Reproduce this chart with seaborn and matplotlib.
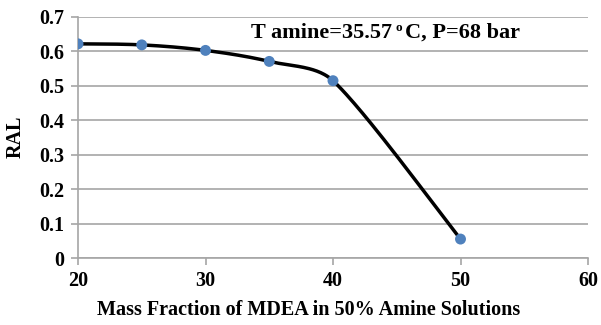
import numpy as np
import matplotlib
matplotlib.use("Agg")
import matplotlib.pyplot as plt
import seaborn as sns
import pandas as pd

mass_fraction = [20, 25, 30, 35, 40, 50]
ral = [0.622, 0.619, 0.603, 0.571, 0.515, 0.055]
x_ticks = [20, 30, 40, 50, 60]
y_ticks = [0, 0.1, 0.2, 0.3, 0.4, 0.5, 0.6, 0.7]
y_tick_labels = ["0", "0.1", "0.2", "0.3", "0.4", "0.5", "0.6", "0.7"]

sns.set_theme(style="white")
plt.rcParams['font.family'] = ['Liberation Serif', 'DejaVu Serif']
plt.rcParams['font.weight'] = 'bold'
plt.rcParams['text.color'] = 'black'
plt.rcParams['axes.labelcolor'] = 'black'
plt.rcParams['xtick.color'] = 'black'
plt.rcParams['ytick.color'] = 'black'

XL, YL = (20, 60), (0, 0.7)
AX_W, AX_H = 510, 241  # axes size in pixels
W, H = 601, 325


def smooth(xs, ys, n=50):
    # Bezier smoothing done in pixel space, with control offsets capped
    sx = AX_W / (XL[1] - XL[0])
    sy = AX_H / (YL[1] - YL[0])
    P = np.column_stack([np.asarray(xs, float) * sx, np.asarray(ys, float) * sy])
    m = len(P)
    out = []
    for i in range(m - 1):
        p0 = P[i - 1] if i > 0 else P[i]
        p1 = P[i]
        p2 = P[i + 1]
        p3 = P[i + 2] if i + 2 < m else P[i + 1]
        seg_len = np.linalg.norm(p2 - p1)
        d1 = (p2 - p0) / 6
        d2 = (p3 - p1) / 6
        cap = seg_len / 3
        if np.linalg.norm(d1) > cap:
            d1 = d1 / np.linalg.norm(d1) * cap
        if np.linalg.norm(d2) > cap:
            d2 = d2 / np.linalg.norm(d2) * cap
        c1 = p1 + d1
        c2 = p2 - d2
        t = np.linspace(0, 1, n)[:, None]
        seg = (1 - t) ** 3 * p1 + 3 * (1 - t) ** 2 * t * c1 + 3 * (1 - t) * t ** 2 * c2 + t ** 3 * p2
        out.append(seg if i == 0 else seg[1:])
    res = np.vstack(out)
    return res[:, 0] / sx, res[:, 1] / sy


cx, cy = smooth(mass_fraction, ral)
df_curve = pd.DataFrame({"x": cx, "y": cy})
df_pts = pd.DataFrame({"x": mass_fraction, "y": ral})

fig = plt.figure(figsize=(W / 100, H / 100), dpi=100)
ax = fig.add_axes([78 / W, 67 / H, AX_W / W, AX_H / H])

sns.lineplot(data=df_curve, x="x", y="y", ax=ax, color="black", linewidth=2.5, sort=False, zorder=2)
sns.scatterplot(data=df_pts, x="x", y="y", ax=ax, color="#4f81bd", s=62, edgecolor="none", zorder=3)

ax.set_xlim(*XL)
ax.set_ylim(*YL)
ax.set_xticks(x_ticks)
ax.set_yticks(y_ticks)
ax.set_yticklabels(y_tick_labels)
ax.yaxis.grid(True, color="#a6a6a6", linewidth=1.2)
ax.xaxis.grid(False)
for s in ["top", "right"]:
    ax.spines[s].set_visible(False)
for s in ["left", "bottom"]:
    ax.spines[s].set_color("#a6a6a6")
    ax.spines[s].set_linewidth(1.2)
ax.tick_params(axis="both", which="major", length=5, width=1.2, color="#a6a6a6",
               labelsize=14.5, direction="out", bottom=True, left=True, labelcolor="black")
ax.tick_params(axis="x", pad=4)
ax.tick_params(axis="y", pad=5)
for lab in ax.get_xticklabels() + ax.get_yticklabels():
    lab.set_fontweight("bold")
ax.set_xlabel("")
ax.set_ylabel("")
fig.text(309 / W, 1 - 310 / H, "Mass Fraction of MDEA in 50% Amine Solutions",
         fontsize=14.5, fontweight="bold", ha="center", va="center", color="black")
fig.text(16 / W, 1 - 137 / H, "RAL", fontsize=14.5, fontweight="bold",
         ha="center", va="center", rotation=90, color="black")

# annotation with small raised "o"
renderer = fig.canvas.get_renderer()
t1 = fig.text(251 / W, 1 - 38 / H, "T amine=35.57", fontsize=16, fontweight="bold",
              ha="left", va="baseline", color="black")
x1 = t1.get_window_extent(renderer).x1
t2 = fig.text((x1 + 4) / W, 1 - 31 / H, "o", fontsize=9.5, fontweight="bold",
              ha="left", va="baseline", color="black")
x2 = t2.get_window_extent(renderer).x1
fig.text((x2 + 2) / W, 1 - 38 / H, "C, P=68 bar", fontsize=16, fontweight="bold",
         ha="left", va="baseline", color="black")

fig.savefig("out.png", dpi=100)
